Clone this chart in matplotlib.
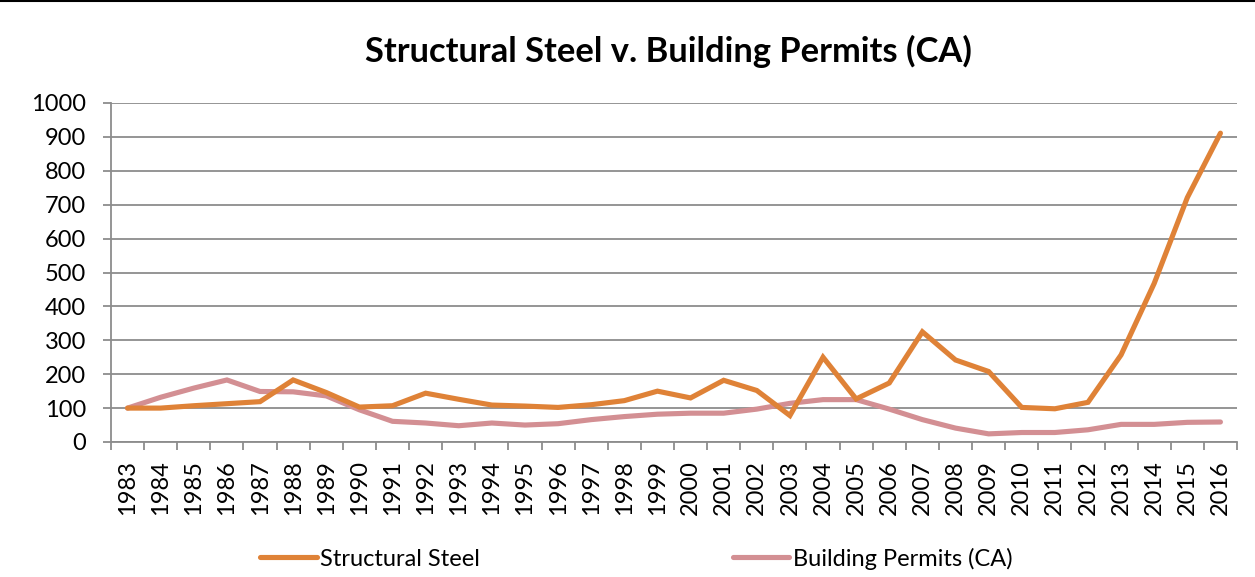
import numpy as np
import matplotlib
matplotlib.use("Agg")
import matplotlib.pyplot as plt
from matplotlib.lines import Line2D

plt.rcParams['font.family'] = ['Lato', 'DejaVu Sans']

years = list(range(1983, 2017))
steel = [100, 100, 107, 113, 119, 183, 146, 103, 107, 144,
         126, 109, 106, 102, 110, 122, 150, 130, 182, 152,
         78, 250, 127, 174, 325, 242, 208, 102, 98, 117,
         257, 468, 721, 911]
permits = [100, 132, 159, 183, 149, 148, 136, 95, 61, 56,
           48, 56, 50, 54, 66, 75, 82, 85, 85, 97,
           114, 125, 125, 97, 66, 41, 24, 28, 28, 36,
           52, 52, 58, 59]
yticks = list(range(0, 1001, 100))

STEEL_COLOR = '#DF8237'
PERMIT_COLOR = '#D38F93'
GRID_COLOR = '#8C8C8C'

fig = plt.figure(figsize=(12.55, 5.77), dpi=100)
ax = fig.add_axes([111 / 1255, 1 - 442 / 577, (1237 - 111) / 1255, (442 - 103) / 577])

ax.plot(years, steel, color=STEEL_COLOR, lw=3.7, solid_capstyle='round',
        solid_joinstyle='miter', label='Structural Steel', zorder=3)
ax.plot(years, permits, color=PERMIT_COLOR, lw=3.7, solid_capstyle='round',
        solid_joinstyle='miter', label='Building Permits (CA)', zorder=2)

ax.set_xlim(years[0] - 0.5, years[-1] + 0.5)
ax.set_ylim(0, 1000)
ax.set_yticks(yticks)
ax.yaxis.grid(True, color=GRID_COLOR, lw=1.3)
ax.set_axisbelow(True)

# category ticks sit between years, labels sit on the years
ax.set_xticks(np.arange(years[0] - 0.5, years[-1] + 1, 1.0))
ax.set_xticklabels([])
ax.set_xticks(years, minor=True)
ax.set_xticklabels([str(y) for y in years], minor=True, rotation=90, fontsize=17)
ax.tick_params(axis='x', which='major', length=6, width=1.3, color=GRID_COLOR)
ax.tick_params(axis='x', which='minor', length=0, pad=13)
ax.tick_params(axis='y', length=6, width=1.3, color=GRID_COLOR, labelsize=17, pad=12)

for side in ['top', 'right']:
    ax.spines[side].set_visible(False)
for side in ['left', 'bottom']:
    ax.spines[side].set_color(GRID_COLOR)
    ax.spines[side].set_linewidth(1.3)

fig.text(0.533, 0.91, 'Structural Steel v. Building Permits (CA)',
         ha='center', va='center', fontsize=24.8, fontweight='bold')

fig.legend(loc='center', bbox_to_anchor=(0.507, 0.032), ncol=2, frameon=False,
           fontsize=17, handlelength=2.4, handletextpad=0.15, columnspacing=10.7)

fig.add_artist(Line2D([0, 1], [0.998, 0.998], color='black', lw=1.5,
                      transform=fig.transFigure))

fig.savefig('out.png', dpi=100)
